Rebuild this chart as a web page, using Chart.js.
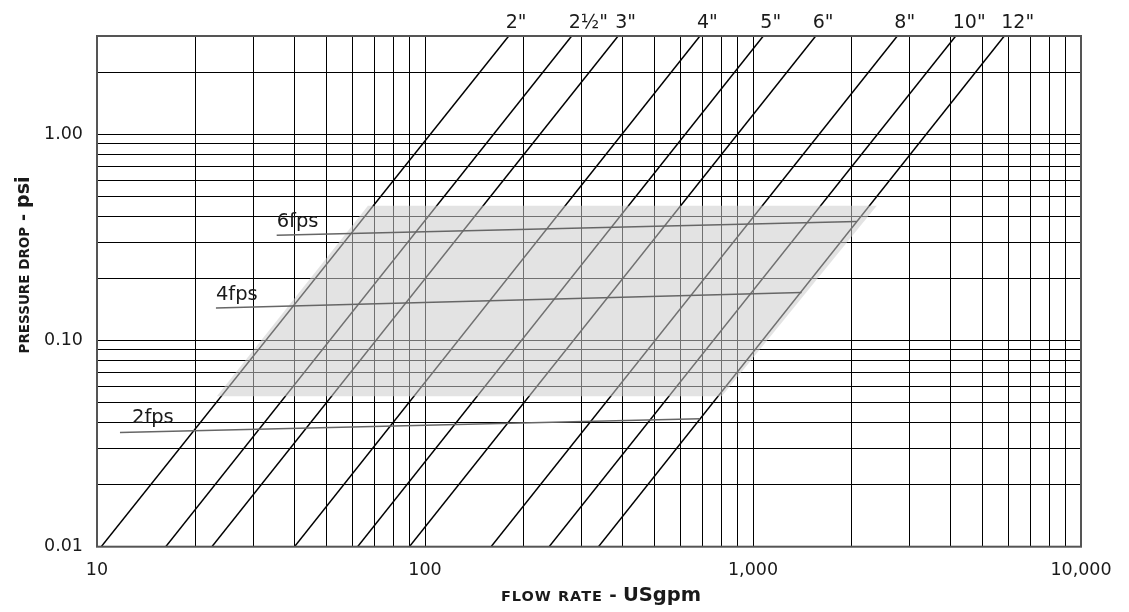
<!DOCTYPE html>
<html><head><meta charset="utf-8">
<script src="https://cdn.jsdelivr.net/npm/chart.js@4.4.1/dist/chart.umd.min.js"></script>
<style>html,body{margin:0;padding:0;background:#fff;overflow:hidden}canvas{display:block}</style>
</head><body>
<canvas id="c" width="1129" height="612" style="width:1129px;height:612px"></canvas>
<script>
// ---- data ----
const pipeSizes = ['2"', '2½"', '3"', '4"', '5"', '6"', '8"', '10"', '12"'];
const pipeFlowAtLowPsi = [10.3, 16.2, 22.4, 40.0, 62.3, 89.6, 159, 239, 338];
const pipeFlowAtHighPsi = [180, 280, 388, 689, 1075, 1553, 2754, 4150, 5836];
const pipePsiRange = [0.01, 3];

const fpsLabels = ['6fps', '4fps', '2fps'];
const fpsStartFlow = [35.3, 23.05, 11.75];
const fpsStartPsi = [0.324, 0.144, 0.0358];
const fpsEndFlow = [2071, 1407, 689];
const fpsEndPsi = [0.378, 0.171, 0.0418];

const shadeFlow = [23.2, 67, 2384, 803, 23.2];
const shadePsi = [0.0536, 0.45, 0.45, 0.0536, 0.0536];

const xGridValues = [10, 20, 30, 40, 50, 60, 70, 80, 90,
  100, 200, 300, 400, 500, 600, 700, 800, 900,
  1000, 2000, 3000, 4000, 5000, 6000, 7000, 8000, 9000, 10000];
const yGridValues = [0.01, 0.02, 0.03, 0.04, 0.05, 0.06, 0.07, 0.08, 0.09,
  0.1, 0.2, 0.3, 0.4, 0.5, 0.6, 0.7, 0.8, 0.9, 1, 2, 3];
const xLabelValues = [10, 100, 1000, 10000];
const yLabelValues = [0.01, 0.1, 1];

const xTitleParts = ['FLOW RATE', ' - ', 'USgpm'];
const yTitleParts = ['PRESSURE DROP', ' - ', 'psi'];

// ---- datasets ----
const datasets = [];
pipeSizes.forEach((name, i) => {
  datasets.push({
    label: name,
    data: [{x: pipeFlowAtLowPsi[i], y: pipePsiRange[0]}, {x: pipeFlowAtHighPsi[i], y: pipePsiRange[1]}],
    borderColor: '#000', borderWidth: 1.5, pointRadius: 0, fill: false, tension: 0, order: 3
  });
});
datasets.push({
  label: 'shade',
  data: shadeFlow.map((x, i) => ({x, y: shadePsi[i]})),
  borderColor: 'rgba(0,0,0,0)', borderWidth: 0, pointRadius: 0,
  backgroundColor: 'rgba(204,204,204,0.55)', fill: 'shape', tension: 0, order: 2
});
fpsLabels.forEach((name, i) => {
  datasets.push({
    label: name,
    data: [{x: fpsStartFlow[i], y: fpsStartPsi[i]}, {x: fpsEndFlow[i], y: fpsEndPsi[i]}],
    borderColor: '#666', borderWidth: 1.5, pointRadius: 0, fill: false, tension: 0, order: 1
  });
});

const fpsLabelOffset = {'6fps': [0, -8], '4fps': [0, -8], '2fps': [12, -10]};

const annot = {
  id: 'annot',
  afterDatasetsDraw(chart) {
    const ctx = chart.ctx, a = chart.chartArea;
    const xs = chart.scales.x, ys = chart.scales.y;
    ctx.save();
    // frame
    ctx.strokeStyle = '#555'; ctx.lineWidth = 2;
    ctx.strokeRect(a.left, a.top, a.right - a.left, a.bottom - a.top);
    // pipe labels
    ctx.fillStyle = '#1a1a1a';
    ctx.font = '19px "DejaVu Sans"';
    ctx.textAlign = 'left'; ctx.textBaseline = 'alphabetic';
    pipeSizes.forEach((name, i) => {
      ctx.fillText(name, xs.getPixelForValue(pipeFlowAtHighPsi[i]) - 3, a.top - 8);
    });
    // fps labels
    ctx.font = '19.5px "DejaVu Sans"';
    fpsLabels.forEach((name, i) => {
      const o = fpsLabelOffset[name];
      ctx.fillText(name, xs.getPixelForValue(fpsStartFlow[i]) + o[0], ys.getPixelForValue(fpsStartPsi[i]) + o[1]);
    });
    // x title
    const fonts = ['bold 14.5px "DejaVu Sans"', 'bold 18px "DejaVu Sans"', 'bold 19.5px "DejaVu Sans"'];
    const spacing = ['1px', '0px', '0px'];
    let widths = xTitleParts.map((t, k) => { ctx.font = fonts[k]; ctx.letterSpacing = spacing[k]; return ctx.measureText(t).width; });
    let total = widths.reduce((s, w) => s + w, 0);
    let cx = 601 - total / 2;
    xTitleParts.forEach((t, k) => { ctx.font = fonts[k]; ctx.letterSpacing = spacing[k]; ctx.fillText(t, cx, 601); cx += widths[k]; });
    // y title
    const yfonts = ['bold 13.5px "DejaVu Sans"', 'bold 17px "DejaVu Sans"', 'bold 19px "DejaVu Sans"'];
    ctx.letterSpacing = '0px';
    widths = yTitleParts.map((t, k) => { ctx.font = yfonts[k]; return ctx.measureText(t).width; });
    total = widths.reduce((s, w) => s + w, 0);
    ctx.translate(28.5, 265);
    ctx.rotate(-Math.PI / 2);
    cx = -total / 2;
    yTitleParts.forEach((t, k) => { ctx.font = yfonts[k]; ctx.fillText(t, cx, 0); cx += widths[k]; });
    ctx.restore();
  }
};

const gridOpts = {color: '#000', lineWidth: 1, drawTicks: false};

new Chart(document.getElementById('c'), {
  type: 'line',
  data: {datasets},
  options: {
    responsive: false, animation: false, devicePixelRatio: 1,
    layout: {padding: {left: 0, top: 36, right: 48, bottom: 0}},
    plugins: {legend: {display: false}, tooltip: {enabled: false}},
    scales: {
      x: {
        type: 'logarithmic', min: 10, max: 10000, position: 'bottom',
        afterBuildTicks: s => { s.ticks = xGridValues.map(v => ({value: v})); },
        afterFit: s => { s.height = 65.3; },
        grid: gridOpts, border: {display: false},
        ticks: {
          autoSkip: false, maxRotation: 0, padding: 13, color: '#1a1a1a',
          font: {family: 'DejaVu Sans', size: 17.5},
          callback: v => xLabelValues.includes(v) ? v.toLocaleString('en-US') : ''
        }
      },
      y: {
        type: 'logarithmic', min: 0.01, max: 3, position: 'left',
        afterBuildTicks: s => { s.ticks = yGridValues.map(v => ({value: v})); },
        afterFit: s => { s.width = 97; },
        grid: gridOpts, border: {display: false},
        ticks: {
          autoSkip: false, padding: 14, color: '#1a1a1a',
          font: {family: 'DejaVu Sans', size: 17.5},
          callback: v => yLabelValues.includes(v) ? v.toFixed(2) : ''
        }
      }
    }
  },
  plugins: [annot]
});
</script>
</body></html>
